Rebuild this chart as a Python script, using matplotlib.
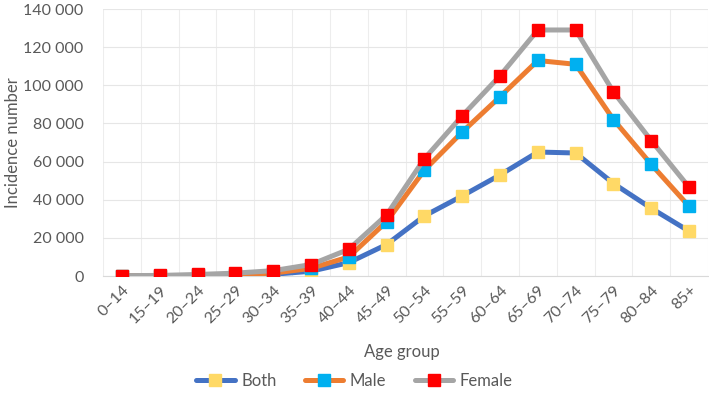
import matplotlib
matplotlib.use("Agg")
import matplotlib.pyplot as plt
from matplotlib.ticker import FuncFormatter, MultipleLocator

age_groups = ["0–14", "15–19", "20–24", "25–29", "30–34", "35–39", "40–44", "45–49",
              "50–54", "55–59", "60–64", "65–69", "70–74", "75–79", "80–84", "85+"]
both = [100, 150, 200, 400, 900, 2500, 7000, 16500, 31500, 42000, 53000, 65000, 64500, 48500, 35500, 23500]
male = [150, 200, 300, 700, 1500, 4000, 10000, 28500, 55500, 75500, 94000, 113000, 111000, 82000, 58500, 36500]
female = [200, 300, 800, 1500, 2800, 6000, 14000, 32000, 61500, 84000, 105000, 129000, 129000, 96500, 71000, 46500]

plt.rcParams['font.family'] = ['Lato', 'DejaVu Sans']
txt = "#595959"

fig = plt.figure(figsize=(7.09, 3.96), dpi=100)
ax = fig.add_axes([103/709, 1-276/396, 605/709, 267/396])

x = list(range(len(age_groups)))
series = [("Both", both, "#4472C4", "#FFD966"),
          ("Male", male, "#ED7D31", "#00B0F0"),
          ("Female", female, "#A5A5A5", "#FF0000")]
for i, (name, vals, lc, mc) in enumerate(series):
    ax.plot(x, vals, color=lc, lw=3.6, marker="s", ms=8, mfc=mc, mec=mc,
            label=name, zorder=3+i, solid_joinstyle="round", solid_capstyle="round")

ax.set_xlim(-0.5, len(age_groups)-0.5)
ax.set_ylim(0, 140000)
ax.yaxis.set_major_locator(MultipleLocator(20000))
ax.yaxis.set_major_formatter(FuncFormatter(lambda v, p: f"{int(v):,}".replace(",", " ")))
ax.set_xticks(x)
ax.set_xticklabels(age_groups, rotation=45, ha="right", rotation_mode="anchor")
ax.set_xticks([i+0.5 for i in range(-1, len(age_groups))], minor=True)
ax.grid(axis="y", which="major", color="#E6E6E6", lw=0.8)
ax.grid(axis="x", which="minor", color="#EDEDED", lw=0.8)
ax.set_axisbelow(True)
for s in ["top", "right", "left"]:
    ax.spines[s].set_visible(False)
ax.spines["bottom"].set_color("#D9D9D9")
ax.tick_params(axis="both", which="both", length=0, colors=txt, labelsize=11.5)
ax.tick_params(axis="x", pad=5)
ax.tick_params(axis="y", pad=14)

ax.set_xlabel("Age group", fontsize=12, color=txt)
ax.xaxis.set_label_coords((402-103)/605, (276-344)/267)
ax.set_ylabel("Incidence number", fontsize=12, color=txt)
ax.yaxis.set_label_coords((21-103)/605, 0.5)

leg = fig.legend(loc="center", bbox_to_anchor=(0.5, 1-381/396), ncol=3, frameon=False,
                 fontsize=12, handlelength=2.3, columnspacing=1.7, handletextpad=0.4)
for t in leg.get_texts():
    t.set_color(txt)

fig.savefig("out.png", dpi=100)
